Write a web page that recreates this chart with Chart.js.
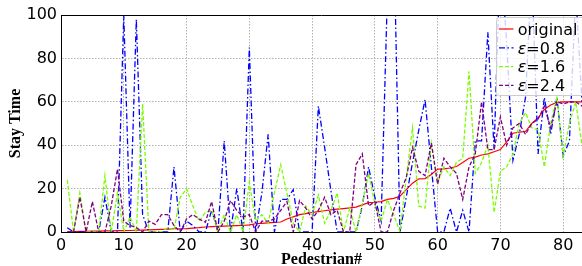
<!DOCTYPE html>
<html>
<head>
<meta charset="utf-8">
<script src="https://cdn.jsdelivr.net/npm/chart.js@4/dist/chart.umd.min.js"></script>
<style>
html,body{margin:0;padding:0;background:#fff;}
canvas{display:block;}
</style>
</head>
<body>
<canvas id="c" width="582" height="266"></canvas>
<script>
const pedestrianIds = [1,2,3,4,5,6,7,8,9,10,11,12,13,14,15,16,17,18,19,20,21,22,23,24,25,26,27,28,29,30,31,32,33,34,35,36,37,38,39,40,41,42,43,44,45,46,47,48,49,50,51,52,53,54,55,56,57,58,59,60,61,62,63,64,65,66,67,68,69,70,71,72,73,74,75,76,77,78,79,80,81,82,83];

const originalStay = [0.1,0.2,0.3,0.3,0.4,0.4,0.5,0.5,0.6,0.6,
  0.7,0.8,0.9,1.0,1.1,1.2,1.3,1.5,1.5,1.6,
  1.8,2.0,2.3,2.5,2.6,2.7,2.8,2.9,3.0,3.3,
  3.8,4.0,4.2,4.4,4.6,6.0,7.0,8.0,8.5,9.0,
  9.4,9.8,10.2,10.5,10.8,11.1,11.5,12.5,13.5,13.7,
  14.0,15.0,15.5,16.5,19.5,22.5,24.5,24.6,26.5,29.0,
  29.1,29.5,30.2,32,34,34.5,35.5,36,37,38,
  41.5,45.5,46,46.3,50,52.5,56.5,58.5,59.7,60,
  60,60,60];

const eps08Stay = [2,0,0,0,0,0,16,0,0,100,
  2,98,8,0,0,0,0,30,0,5,
  3,0,0,10,0,42,0,20,0,85,
  0,18,45,0,15,15,19.5,0,0,0,
  58,39,19,0,0,0,0,12,30,16,
  5,110,140,0,16,32,47,61,30,0,
  0,11,0,10,0,42,42,92,38,130,
  87,33,45,62,120,36,62,45,62,35,
  42,110,60];

const eps16Stay = [24,0,18,0,0,0,26,0,18,0,
  7,0,59,0,0,0,2,1,16,20,
  12,5,9,10,0,8,0,8,0,23,
  5,8,4,18,31,18,4,0,12,8,
  17,4,10,18,0,11,0,13,27,13,
  5,15,8,0,25,48,12,11,41,23,
  30,26,32,34,74,27,32,40,9,28,
  30,36,50,55,48,47,30,50,62,35,
  50,60,40];

const eps24Stay = [0,0,16,0,14,0,0,12,29,5,
  3,2,0,5,3.5,8,8,3,0,6,
  8,6,4.5,14,0,5,14.5,10,7,8,
  0,5,5,6,10,14,0,14.5,11,6,
  10,16,8,10,0,0,31,36,12,14,
  0,0,10,18,25,39,28,26,41,22,
  34,30,27,15,30,36,60,38,38,53,
  40,48,50,45,50,52,58,48,60,59,
  60,60,58];

const seriesLabels = ['original', 'ε=0.8', 'ε=1.6', 'ε=2.4'];
const xTickValues = [0,10,20,30,40,50,60,70,80];
const yTickValues = [0,20,40,60,80,100];

function pts(vals){ return pedestrianIds.map((id,i)=>({x:id,y:vals[i]})); }

const styles = [
  {color:'#ff0000', dash:[], width:1.2, order:3},
  {color:'#0000ff', dash:[6,2.5,1.5,2.5], width:1.3, order:2},
  {color:'#7cfc00', dash:[4,2], width:1.3, order:1},
  {color:'#800080', dash:[4,2], width:1.3, order:0}
];
const seriesData = [originalStay, eps08Stay, eps16Stay, eps24Stay];

const datasets = seriesData.map((vals,i)=>({
  label: seriesLabels[i],
  data: pts(vals),
  borderColor: styles[i].color,
  backgroundColor: styles[i].color,
  borderDash: styles[i].dash,
  borderWidth: styles[i].width,
  order: styles[i].order,
  pointRadius: 0,
  tension: 0,
  fill: false,
  clip: 0
}));

const legendPlugin = {
  id: 'mplLegend',
  afterDatasetsDraw(chart){
    const ctx = chart.ctx;
    ctx.save();
    const bx = 496.5, by = 17.5, bw = 100, bh = 78;
    ctx.beginPath();
    if (ctx.roundRect) ctx.roundRect(bx, by, bw, bh, 3); else ctx.rect(bx,by,bw,bh);
    ctx.fillStyle = 'rgba(255,255,255,0.8)';
    ctx.fill();
    ctx.strokeStyle = '#cccccc';
    ctx.lineWidth = 1;
    ctx.stroke();
    chart.data.datasets.forEach((ds,i)=>{
      const y = 29 + i*18.8;
      ctx.beginPath();
      ctx.setLineDash(ds.borderDash || []);
      ctx.strokeStyle = ds.borderColor;
      ctx.lineWidth = ds.borderWidth;
      ctx.moveTo(499, y);
      ctx.lineTo(513.5, y);
      ctx.stroke();
      ctx.setLineDash([]);
      ctx.fillStyle = '#000';
      ctx.textBaseline = 'alphabetic';
      ctx.textAlign = 'left';
      const label = ds.label;
      let tx = 517.7;
      const by2 = y + 5.8;
      if (label.charAt(0) === 'ε') {
        ctx.font = 'italic 16px "DejaVu Sans"';
        ctx.fillText('ε', tx, by2);
        tx += ctx.measureText('ε').width;
        ctx.font = '16px "DejaVu Sans"';
        ctx.fillText(label.slice(1), tx, by2);
      } else {
        ctx.font = '16px "DejaVu Sans"';
        ctx.fillText(label, tx, by2);
      }
    });
    ctx.restore();
  },
  afterDraw(chart){
    const ctx = chart.ctx;
    const ca = chart.chartArea;
    ctx.save();
    ctx.strokeStyle = '#000';
    ctx.lineWidth = 1;
    ctx.beginPath();
    ctx.moveTo(ca.left, Math.round(ca.top)+0.5);
    ctx.lineTo(ca.right, Math.round(ca.top)+0.5);
    ctx.stroke();
    ctx.restore();
  }
};

new Chart(document.getElementById('c'), {
  type: 'line',
  data: { datasets },
  plugins: [legendPlugin],
  options: {
    responsive: false,
    animation: false,
    devicePixelRatio: 1,
    layout: { padding: { top: 15, right: -2, left: 0, bottom: 0 } },
    plugins: { legend: { display: false }, tooltip: { enabled: false } },
    scales: {
      x: {
        type: 'linear',
        min: 0, max: 83,
        afterBuildTicks(axis){ axis.ticks = xTickValues.map(v=>({value:v})); },
        afterFit(axis){ axis.height = 34; },
        ticks: { font: { family: 'DejaVu Sans', size: 16 }, color: '#000', padding: 4, maxRotation: 0, autoSkip: false },
        grid: { color: '#b0b0b0', lineWidth: 1, drawTicks: false },
        border: { display: true, color: '#000', width: 1, dash: [1.5, 1.5] },
        title: { display: true, text: 'Pedestrian#', color: '#000',
          font: { family: 'Liberation Serif', weight: 'bold', size: 16, lineHeight: 1 },
          padding: { top: 0, bottom: -2 } }
      },
      y: {
        min: 0, max: 100,
        afterBuildTicks(axis){ axis.ticks = yTickValues.map(v=>({value:v})); },
        afterFit(axis){ axis.width = 61; },
        ticks: { font: { family: 'DejaVu Sans', size: 16 }, color: '#000', padding: 4 },
        grid: { color: '#b0b0b0', lineWidth: 1, drawTicks: false },
        border: { display: true, color: '#000', width: 1, dash: [1.5, 1.5] },
        title: { display: true, text: 'Stay Time', color: '#000',
          font: { family: 'Liberation Serif', weight: 'bold', size: 16, lineHeight: 1 },
          padding: { top: 8, bottom: 0 } }
      }
    }
  }
});
</script>
</body>
</html>
